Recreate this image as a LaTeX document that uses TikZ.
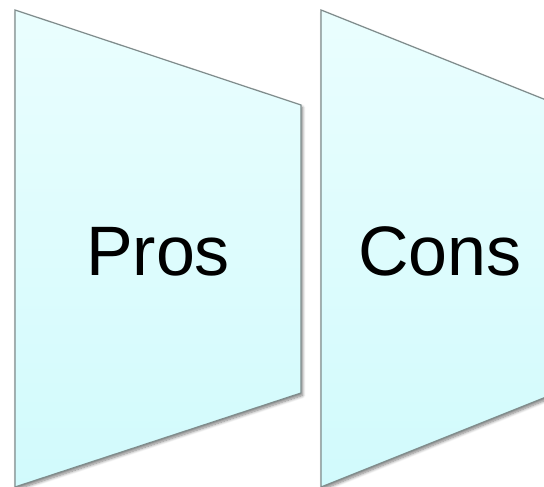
\documentclass[tikz,border=0pt]{standalone}
\usepackage{fontspec}
\setmainfont{Liberation Sans}
\usetikzlibrary{shadows.blur}
\definecolor{paneltop}{HTML}{EAFEFE}
\definecolor{panelbot}{HTML}{D1FAFC}
\definecolor{paneledge}{HTML}{7F8C8C}
\tikzset{
  panel/.style={draw=paneledge, line width=1.2pt, line join=miter,
    top color=paneltop, bottom color=panelbot,
    blur shadow={shadow xshift=1.5pt, shadow yshift=-2.5pt, shadow blur steps=8, shadow blur radius=3pt, shadow opacity=50}},
  label/.style={font=\fontsize{70}{80}\selectfont, text=black, inner sep=0pt, anchor=base}
}
\begin{document}
\begin{tikzpicture}[x=1pt,y=1pt]
  \useasboundingbox (0,0) rectangle (544,487);
  \clip (0,0) rectangle (544,487);
  % left panel
  \path[panel] (15,477) -- (301,382) -- (301,94) -- (15,0) -- cycle;
  % right panel, running past the right edge
  \path[panel] (321,477) -- (611,361) -- (611,116) -- (321,0) -- cycle;
  \node[label] (pros) at (158,211) {Pros};
  \node[label] (cons) at (440,211) {Cons};
\end{tikzpicture}
\end{document}
